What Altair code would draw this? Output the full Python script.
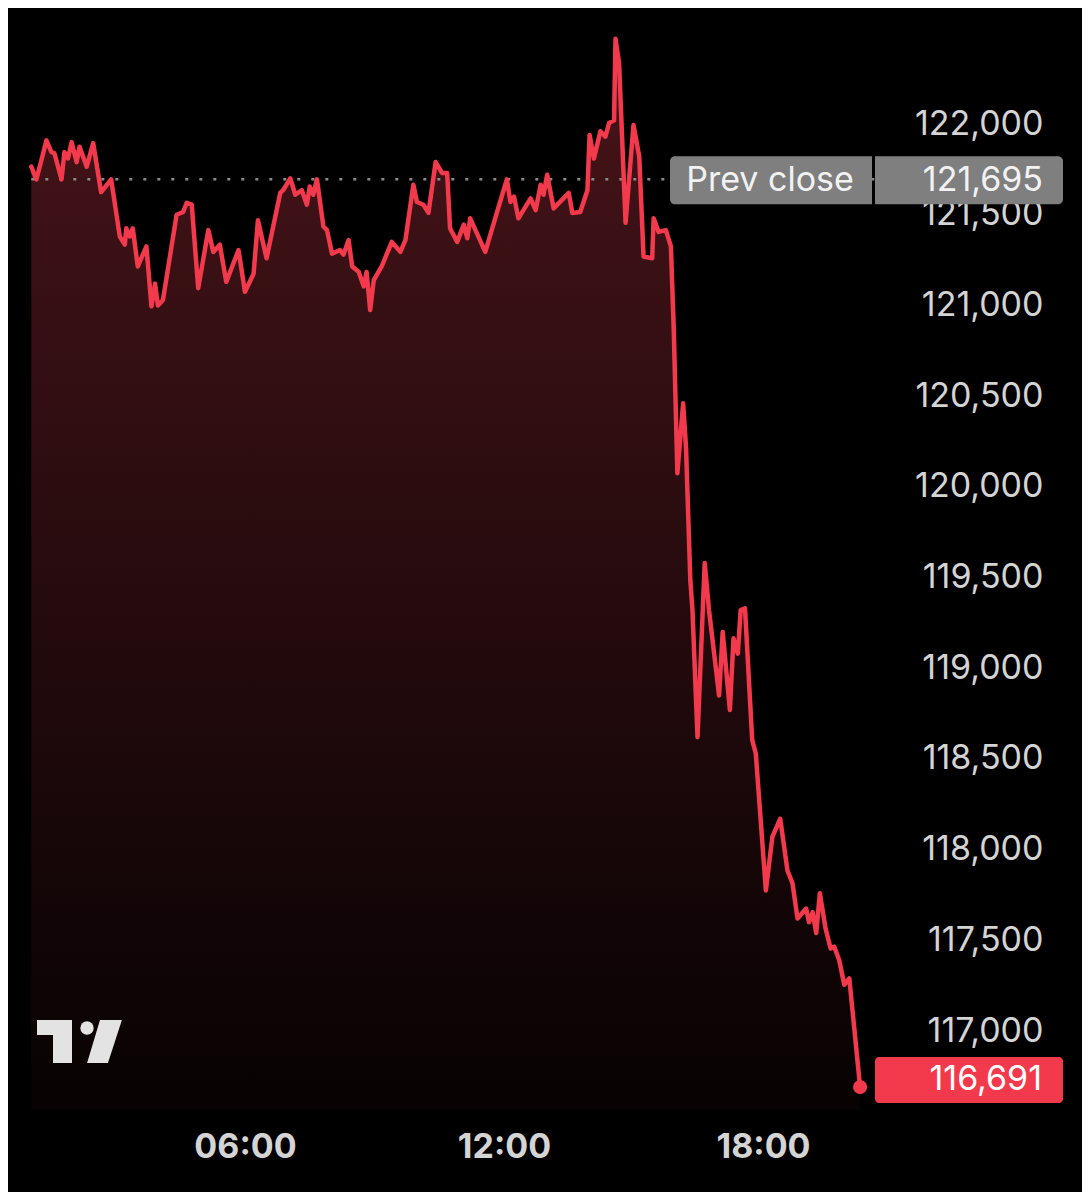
import altair as alt
import pandas as pd

# ---- data ----
times = [
    "01:03", "01:10", "01:17", "01:24", "01:31", "01:35", "01:45", "01:49", "01:54", "01:59",
    "02:06", "02:10", "02:20", "02:29", "02:40", "02:54", "03:06", "03:13", "03:15", "03:20",
    "03:24", "03:31", "03:43", "03:50", "03:55", "03:59", "04:06", "04:25", "04:34", "04:39",
    "04:46", "04:55", "05:09", "05:16", "05:25", "05:34", "05:51", "06:00", "06:12", "06:18",
    "06:30", "06:49", "06:53", "07:03", "07:10", "07:19", "07:26", "07:30", "07:35", "07:40",
    "07:49", "07:54", "08:01", "08:12", "08:17", "08:24", "08:29", "08:38", "08:45", "08:49",
    "08:54", "08:59", "09:10", "09:24", "09:36", "09:43", "09:54", "09:59", "10:08", "10:15",
    "10:25", "10:34", "10:41", "10:45", "10:55", "11:04", "11:09", "11:13", "11:34", "11:50",
    "12:04", "12:09", "12:14", "12:20", "12:37", "12:44", "12:51", "12:55", "13:00", "13:09",
    "13:30", "13:35", "13:46", "13:56", "13:59", "14:05", "14:14", "14:21", "14:26", "14:33",
    "14:35", "14:40", "14:49", "15:00", "15:08", "15:14", "15:26", "15:28", "15:35", "15:45",
    "15:52", "15:56", "16:01", "16:09", "16:13", "16:19", "16:22", "16:29", "16:39", "16:45",
    "16:59", "17:04", "17:14", "17:19", "17:25", "17:29", "17:35", "17:45", "17:50", "18:04",
    "18:13", "18:24", "18:34", "18:41", "18:48", "19:00", "19:04", "19:09", "19:14", "19:19",
    "19:27", "19:34", "19:39", "19:46", "19:53", "20:00", "20:15",
]
prices = [
    121765, 121695, 121800, 121910, 121845, 121840, 121695, 121845, 121810, 121900,
    121790, 121875, 121765, 121895, 121625, 121695, 121380, 121335, 121425, 121380,
    121425, 121215, 121325, 120995, 121120, 121000, 121030, 121500, 121515, 121565,
    121555, 121095, 121415, 121295, 121335, 121130, 121305, 121075, 121175, 121470,
    121260, 121620, 121635, 121700, 121610, 121635, 121555, 121655, 121610, 121695,
    121435, 121415, 121285, 121305, 121280, 121360, 121215, 121185, 121105, 121185,
    120975, 121140, 121215, 121350, 121295, 121360, 121665, 121570, 121555, 121510,
    121790, 121730, 121730, 121425, 121350, 121445, 121370, 121480, 121295, 121510,
    121695, 121570, 121600, 121480, 121590, 121525, 121665, 121610, 121720, 121535,
    121620, 121510, 121515, 121635, 121940, 121810, 121960, 121930, 122005, 122020,
    122470, 122335, 121455, 121995, 121820, 121270, 121260, 121480, 121405, 121415,
    121325, 120865, 120075, 120460, 120220, 119485, 119320, 118620, 119580, 119320,
    118850, 119200, 118770, 119165, 119080, 119320, 119330, 118605, 118530, 117775,
    118070, 118170, 117885, 117815, 117620, 117675, 117600, 117655, 117540, 117760,
    117565, 117455, 117465, 117390, 117255, 117290, 116691,
]
PREV_CLOSE = 121695
LAST = 116691
Y_TICKS = [117000, 117500, 118000, 118500, 119000, 119500, 120000, 120500, 121000, 121500, 122000]
X_TICKS = ["06:00", "12:00", "18:00"]
PREV_LABEL = "Prev close"


def to_min(s):
    h, m = s.split(":")
    return int(h) * 60 + int(m)


df = pd.DataFrame({"m": [to_min(t) for t in times], "p": prices})
prev_df = pd.DataFrame({"m": [df["m"].iloc[0]], "p": [PREV_CLOSE], "label": [PREV_LABEL], "val": [f"{PREV_CLOSE:,}"]})
last_df = pd.DataFrame({"m": [df["m"].iloc[-1]], "p": [LAST], "val": [f"{LAST:,}"]})
one = pd.DataFrame({"a": [0]})

# ---- layout ----
W, H = 867, 1102
X_DOM = [30.6, 1235.7]
Y_DOM = [116564.5, 122639.5]
PPU = H / (Y_DOM[1] - Y_DOM[0])  # pixels per price unit

FONT = "Inter"
FS = 34
RED = "#f23a4c"
GRAY_BOX = "#7f7f7f"
LABEL = "#d4d4d4"

xs = alt.Scale(domain=X_DOM, nice=False, zero=False)
ys = alt.Scale(domain=Y_DOM, nice=False, zero=False)

x_axis = alt.Axis(
    values=[to_min(t) for t in X_TICKS],
    labelExpr="(floor(datum.value/60) < 10 ? '0' : '') + floor(datum.value/60) + ':' + (datum.value % 60 < 10 ? '0' : '') + (datum.value % 60)",
    labelFont=FONT, labelFontSize=FS, labelFontWeight="bold", labelColor=LABEL,
    labelBaseline="middle", labelPadding=37, ticks=False, domain=False, grid=False,
)
y_axis = alt.Axis(
    values=Y_TICKS, labelExpr="format(datum.value, ',')", orient="right",
    labelFont=FONT, labelFontSize=FS, labelColor=LABEL, labelAlign="right",
    labelPadding=168, ticks=False, domain=False, grid=False,
)


def dv(px):
    return px / PPU


area = alt.Chart(df).mark_area(
    color=alt.Gradient(
        gradient="linear",
        stops=[alt.GradientStop(color="#471419", offset=0), alt.GradientStop(color="#070203", offset=1)],
        x1=1, x2=1, y1=0, y2=1,
    )
).encode(
    x=alt.X("m:Q", scale=xs, axis=x_axis, title=None),
    y=alt.Y("p:Q", scale=ys, axis=y_axis, title=None),
    y2=alt.datum(Y_DOM[0]),
)

rule = alt.Chart(prev_df).mark_rule(color="#8c8c8c", strokeDash=[3, 11], strokeWidth=2.5).encode(
    x=alt.X("m:Q", scale=xs, title=None),
    x2=alt.value(W),
    y=alt.Y("p:Q", scale=ys, title=None),
)

line = alt.Chart(df).mark_line(color=RED, strokeWidth=4.5, strokeJoin="round", strokeCap="round").encode(
    x=alt.X("m:Q", scale=xs, title=None),
    y=alt.Y("p:Q", scale=ys, title=None),
)

dot = alt.Chart(last_df).mark_circle(color=RED, size=200, opacity=1).encode(
    x=alt.X("m:Q", scale=xs, title=None),
    y=alt.Y("p:Q", scale=ys, title=None),
)

prev_box_l = alt.Chart(prev_df).mark_rect(
    color=GRAY_BOX, cornerRadiusTopLeft=5, cornerRadiusBottomLeft=5
).encode(
    x=alt.value(662), x2=alt.value(864),
    y=alt.datum(PREV_CLOSE + dv(23)), y2=alt.datum(PREV_CLOSE - dv(25)),
)
prev_box_r = alt.Chart(prev_df).mark_rect(
    color=GRAY_BOX, cornerRadiusTopRight=5, cornerRadiusBottomRight=5
).encode(
    x=alt.value(867), x2=alt.value(1055),
    y=alt.datum(PREV_CLOSE + dv(23)), y2=alt.datum(PREV_CLOSE - dv(25)),
)
prev_txt_l = alt.Chart(prev_df).mark_text(
    font=FONT, fontSize=FS, color="#f2f2f2", align="center", baseline="middle", dy=2
).encode(x=alt.value(762), y=alt.Y("p:Q", scale=ys, title=None), text="label:N")
prev_txt_r = alt.Chart(prev_df).mark_text(
    font=FONT, fontSize=FS, color="#f2f2f2", align="right", baseline="middle", dy=2
).encode(x=alt.value(1035), y=alt.Y("p:Q", scale=ys, title=None), text="val:N")

last_box = alt.Chart(last_df).mark_rect(color=RED, cornerRadius=4).encode(
    x=alt.value(867), x2=alt.value(1055),
    y=alt.datum(LAST + dv(30)), y2=alt.datum(LAST - dv(16)),
)
last_txt = alt.Chart(last_df).mark_text(
    font=FONT, fontSize=FS, color="#ffffff", align="right", baseline="middle", dy=-7
).encode(x=alt.value(1034), y=alt.Y("p:Q", scale=ys, title=None), text="val:N")

# TradingView logo (decoration)
LOGO = "#e3e3e3"
logo_a = alt.Chart(one).mark_rect(color=LOGO).encode(
    x=alt.value(29), x2=alt.value(64), y=alt.value(1012), y2=alt.value(1027))
logo_b = alt.Chart(one).mark_rect(color=LOGO).encode(
    x=alt.value(45), x2=alt.value(64), y=alt.value(1012), y2=alt.value(1055))
logo_c = alt.Chart(one).mark_circle(color=LOGO, size=180, opacity=1).encode(
    x=alt.value(79), y=alt.value(1020))
logo_d = alt.Chart(one).mark_point(
    shape="M -0.21 -1 L 0.81 -1 L 0.16 1 L -0.81 1 Z", filled=True, color=LOGO, opacity=1,
    size=1849, strokeWidth=0,
).encode(x=alt.value(96.5), y=alt.value(1033.5))

chart = alt.layer(
    area, rule, line, dot,
    prev_box_l, prev_box_r, prev_txt_l, prev_txt_r,
    last_box, last_txt,
    logo_a, logo_b, logo_c, logo_d,
).properties(
    width=W, height=H,
    autosize=alt.AutoSizeParams(type="none"),
    padding={"left": 0, "top": 0, "right": 1074 - W, "bottom": 1184 - H},
    background="#000000",
).configure_view(strokeWidth=0)

chart.save("out.html", embed_options={"renderer": "svg", "actions": False})
